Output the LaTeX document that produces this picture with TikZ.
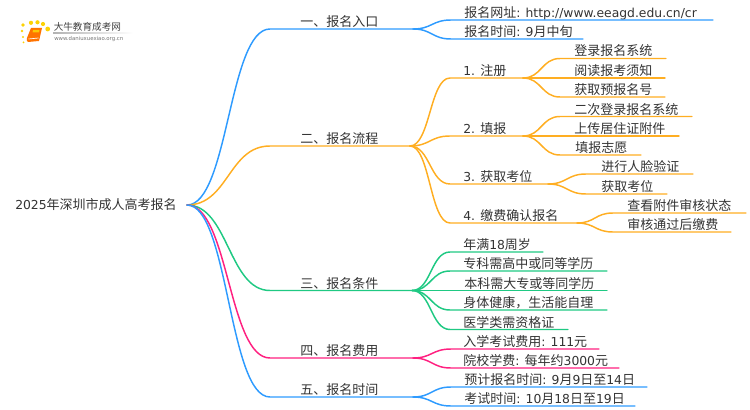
\documentclass[tikz,border=0pt]{standalone}
\usepackage{fontspec}
\usetikzlibrary{calc}
\setmainfont[Scale=0.95]{DejaVu Sans}
\newfontfamily\cjk{Noto Sans CJK SC}
\newcommand{\Z}[1]{{\cjk #1}}
\definecolor{cblue}{HTML}{2E9BFF}
\definecolor{corange}{HTML}{FFAE22}
\definecolor{cgreen}{HTML}{1FC983}
\definecolor{cpink}{HTML}{FF2080}
\definecolor{ctext}{HTML}{333333}
\tikzset{
  lbl/.style={anchor=base west,inner sep=0pt,text=ctext,font=\fontsize{9.75pt}{11pt}\selectfont},
  wire/.style={line width=1.1pt,line cap=round},
  logodot/.style={fill=#1,draw=none},
  logotxt/.style={anchor=base west,inner sep=0pt,text=black!75},
}
% \branch{name}{parent}{colour}{curve end x}{text x}{line end x}{line y}{text}
\newcommand{\branch}[8]{%
  \coordinate (#1s) at (#4,#7);
  \coordinate (#1) at (#6,#7);
  \node[lbl] (#1t) at (#5,#7-2.5) {#8};
  \draw[wire,#3] (#2) .. controls ($(#2)!0.5!(#1s |- #2)$) and ($(#1s)!0.5!(#2 |- #1s)$) .. (#1s) -- (#1);
}
\begin{document}
\begin{tikzpicture}[x=0.75pt,y=-0.75pt]
\useasboundingbox (0,0) rectangle (750,410);
% logo
\fill[logodot=yellow!70!orange] (23,25) circle[radius=1.9];
\fill[logodot=yellow!70!orange] (31,22.8) circle[radius=2.1];
\fill[logodot=yellow!70!orange] (37.5,22.3) circle[radius=2.1];
\fill[logodot=yellow!70!orange] (43,24) circle[radius=2.1];
\fill[logodot=yellow!70!orange] (47.7,29) circle[radius=2.4];
\fill[logodot=yellow!70!orange] (22,31) circle[radius=1.4];
\fill[logodot=yellow!70!orange] (23,37) circle[radius=1.2];
\fill[logodot=yellow!70!orange] (23.5,42.5) circle[radius=1];
\fill[orange!90!red] (31,28) -- (42,28) -- (39,41) -- (28,42) .. controls (26.5,42) and (26.5,40) .. (27,38) -- cycle;
\fill[yellow!60!orange] (33,30) -- (39.5,30) -- (39,32.5) -- (32.5,32.5) -- cycle;
\draw[white,line width=.5pt] (28.5,39) -- (38.5,38);
\node[logotxt,font=\cjk\fontsize{7.2pt}{8pt}\selectfont] (logoa) at (53.5,30.5) {大牛教育成考网};
\shade[left color=black!30,right color=white,draw=none] (53,32.8) rectangle (133,33.4);
\node[logotxt,font=\fontsize{4.25pt}{5pt}\selectfont,text=black!55] (logob) at (54,41) {www.daniuxuexiao.org.cn};
% root
\coordinate (root) at (187,205);
\node[lbl] (roott) at (15,209.5) {2025\Z{年深圳市成人高考报名}};
% level 1
\branch{a}{root}{cblue}{270}{300}{413}{29}{\Z{一、报名入口}}
\branch{b}{root}{corange}{270}{300}{410}{146}{\Z{二、报名流程}}
\branch{c}{root}{cgreen}{270}{300}{412}{290.5}{\Z{三、报名条件}}
\branch{d}{root}{cpink}{270}{300}{413}{358}{\Z{四、报名费用}}
\branch{e}{root}{cblue}{270}{300}{413}{397}{\Z{五、报名时间}}
% a
\branch{a1}{a}{cblue}{451}{464}{713}{20}{\Z{报名网址}: http://www.eeagd.edu.cn/cr}
\branch{a2}{a}{cblue}{451}{464}{583}{39}{\Z{报名时间}: 9\Z{月中旬}}
% b
\branch{b1}{b}{corange}{450}{463}{523}{78}{1. \Z{注册}}
\branch{b2}{b}{corange}{450}{463}{523}{136}{2. \Z{填报}}
\branch{b3}{b}{corange}{450}{463}{548}{184}{3. \Z{获取考位}}
\branch{b4}{b}{corange}{450}{463}{577}{223}{4. \Z{缴费确认报名}}
\branch{b11}{b1}{corange}{560}{574}{666}{58.5}{\Z{登录报名系统}}
\branch{b12}{b1}{corange}{560}{574}{665}{78}{\Z{阅读报考须知}}
\branch{b13}{b1}{corange}{560}{574}{665}{97}{\Z{获取预报名号}}
\branch{b21}{b2}{corange}{560}{574}{692}{116.5}{\Z{二次登录报名系统}}
\branch{b22}{b2}{corange}{560}{574}{679}{136}{\Z{上传居住证附件}}
\branch{b23}{b2}{corange}{560}{575}{641}{155}{\Z{填报志愿}}
\branch{b31}{b3}{corange}{586}{601}{693}{174}{\Z{进行人脸验证}}
\branch{b32}{b3}{corange}{586}{601}{667}{194}{\Z{获取考位}}
\branch{b41}{b4}{corange}{613}{627}{746}{213}{\Z{查看附件审核状态}}
\branch{b42}{b4}{corange}{613}{627}{731}{232}{\Z{审核通过后缴费}}
% c
\branch{c1}{c}{cgreen}{450}{463}{543}{252}{\Z{年满}18\Z{周岁}}
\branch{c2}{c}{cgreen}{450}{463}{607}{271}{\Z{专科需高中或同等学历}}
\branch{c3}{c}{cgreen}{450}{464}{607}{290.5}{\Z{本科需大专或等同学历}}
\branch{c4}{c}{cgreen}{450}{463}{607}{310}{\Z{身体健康，生活能自理}}
\branch{c5}{c}{cgreen}{450}{463}{568}{329.5}{\Z{医学类需资格证}}
% d
\branch{d1}{d}{cpink}{451}{463}{599}{349}{\Z{入学考试费用}: 111\Z{元}}
\branch{d2}{d}{cpink}{451}{463}{619}{368}{\Z{院校学费}: \Z{每年约}3000\Z{元}}
% e
\branch{e1}{e}{cblue}{451}{464}{647}{387}{\Z{预计报名时间}: 9\Z{月}9\Z{日至}14\Z{日}}
\branch{e2}{e}{cblue}{451}{464}{635}{406}{\Z{考试时间}: 10\Z{月}18\Z{日至}19\Z{日}}
\end{tikzpicture}
\end{document}
